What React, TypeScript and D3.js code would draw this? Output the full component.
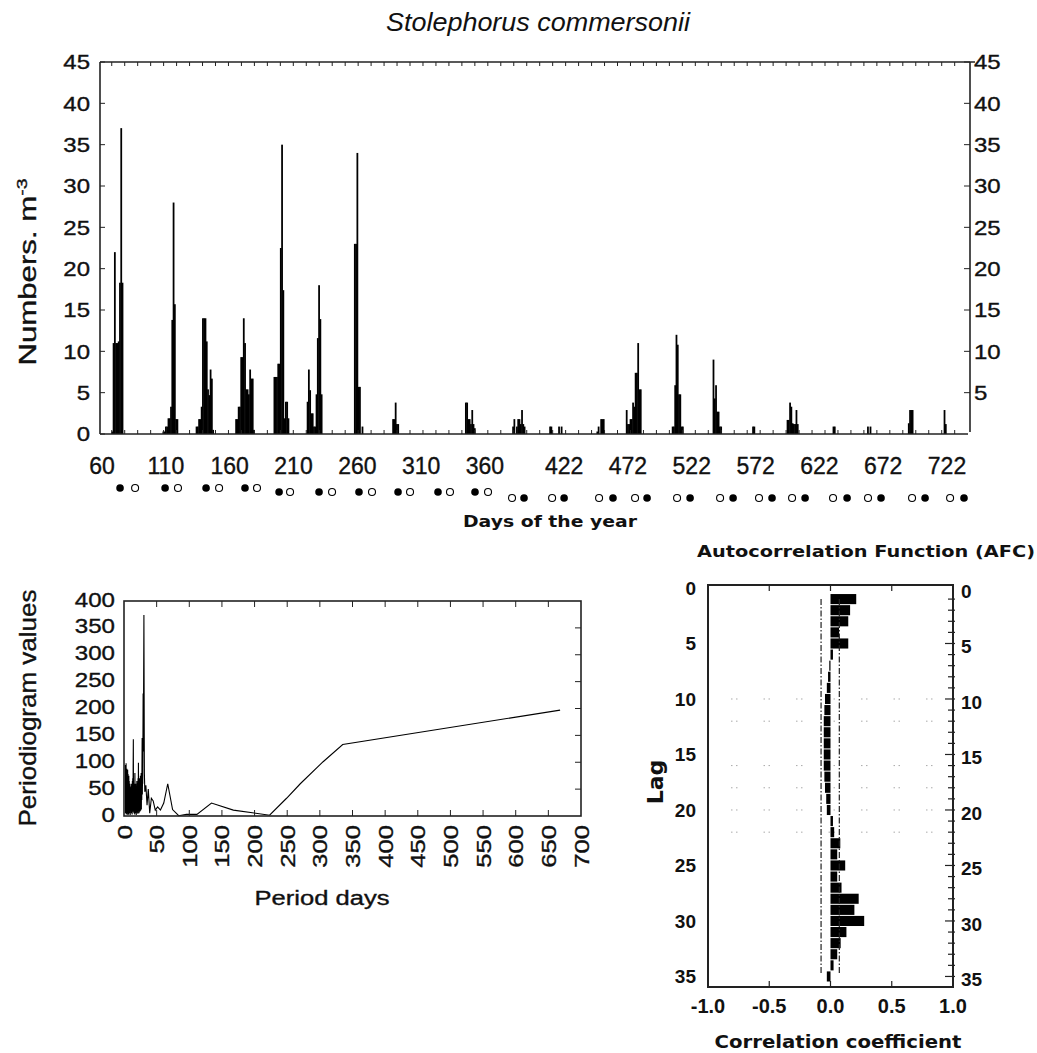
import React from 'react';
import * as d3 from 'd3';

// ---------- Top panel: daily abundance (day, numbers per m3) ----------
const topBars: [number, number][] = [
  [68, 0.3], [69, 11], [70, 22], [71, 11], [72, 11], [73, 11.2], [74, 18.3], [75, 37], [76, 18.3],
  [108, 0.3], [109, 0.3], [110, 0.9], [111, 0.9], [112, 1.9], [113, 1.9], [114, 3.3], [115, 13.8], [116, 28], [117, 15.7], [118, 1.8], [119, 1.8],
  [134, 0.9], [135, 0.9], [136, 1.8], [137, 1.8], [138, 3.3], [139, 14], [140, 14], [141, 14], [142, 11.2], [143, 5.4], [144, 4.7], [145, 7.8], [146, 6.7], [147, 0.5],
  [165, 1.8], [166, 1.8], [167, 3.3], [168, 3.3], [169, 9.3], [170, 9.3], [171, 14], [172, 11], [173, 5.4], [174, 5.4], [175, 4.8], [176, 7.8], [177, 6.7], [178, 6.7], [179, 0.5],
  [195, 6.9], [196, 6.9], [197, 6.9], [198, 8.5], [199, 8.5], [200, 22.5], [201, 35], [202, 17.4], [203, 1.9], [204, 3.9], [205, 3.9], [206, 1.9],
  [221, 3.9], [222, 7.8], [223, 5.3], [224, 2.5], [225, 2.5], [226, 0.9], [227, 0.9], [228, 4.8], [229, 11.6], [230, 18], [231, 13.9], [232, 4.8],
  [258, 23], [259, 23], [260, 34], [261, 5.7], [262, 5.7], [264, 0.9],
  [288, 1.8], [289, 1.8], [290, 3.8], [291, 1.2], [292, 1.2],
  [345, 3.8], [346, 3.8], [347, 1.8], [348, 1.8], [349, 1.2], [350, 2.9], [351, 1.2], [352, 0.7],
  [382, 0.9], [383, 1.8], [385, 0.9], [386, 1.8], [387, 1.8], [388, 1.2], [389, 2.9], [390, 1.2], [391, 0.9],
  [411, 0.9], [412, 0.9], [418, 0.9], [420, 0.9],
  [448, 0.3], [449, 0.9], [451, 1.8], [452, 1.8], [453, 1.8],
  [471, 2.9], [472, 1.2], [473, 1.2], [474, 1.8], [475, 1.8], [476, 3.8], [477, 3.3], [478, 7.4], [479, 7.4], [480, 11], [481, 5.4], [482, 5.4],
  [507, 0.9], [508, 0.9], [509, 5.9], [510, 12], [511, 10.8], [512, 4.8], [513, 4.8], [514, 0.9], [515, 0.9],
  [539, 9], [540, 4.3], [541, 5.9], [542, 2.7], [543, 2.7], [544, 0.9], [545, 0.9],
  [570, 0.9], [571, 0.9],
  [597, 1.7], [598, 1.7], [599, 3.8], [600, 3.3], [601, 1.3], [602, 1.2], [603, 1.2], [604, 2.9], [605, 1.2],
  [633, 0.9], [634, 0.9], [660, 0.9], [662, 0.9],
  [692, 1.3], [693, 2.9], [694, 2.9], [695, 2.9],
  [720, 2.9], [721, 1.2],
];
const dayLabels = [60, 110, 160, 210, 260, 310, 360, 422, 472, 522, 572, 622, 672, 722];
const topYTicks = [0, 5, 10, 15, 20, 25, 30, 35, 40, 45];
const topYTicksRight = [5, 10, 15, 20, 25, 30, 35, 40, 45];
const newMoonDays = [74.1, 109.4, 141.5, 172.0, 198.7, 230.0, 261.3, 291.9, 323.2, 352.2, 390.6, 422.0, 460.3, 487.0, 520.7, 554.4, 584.9, 610.8, 643.7, 670.3, 704.8, 735.3];
const fullMoonDays = [85.9, 119.5, 151.7, 181.4, 207.3, 240.2, 271.5, 301.3, 332.6, 362.4, 381.2, 412.6, 449.4, 477.6, 510.5, 544.2, 574.7, 600.6, 632.7, 660.1, 694.6, 724.4];

// ---------- Periodogram: [period (days), periodogram value] ----------
const periodogram: [number, number][] = [
  [2.0, 95], [2.3, 5], [2.6, 90], [2.9, 8], [3.2, 98], [3.5, 3], [3.8, 85], [4.1, 10], [4.4, 88], [4.7, 4],
  [5.0, 80], [5.3, 12], [5.6, 86], [5.9, 2], [6.2, 78], [6.5, 15], [6.8, 70], [7.1, 3], [7.4, 75], [7.7, 20],
  [8.0, 65], [8.3, 5], [8.6, 60], [8.9, 18], [9.2, 55], [9.5, 2], [9.8, 50], [10.1, 10], [10.4, 45], [10.7, 25],
  [11.0, 60], [11.3, 5], [11.6, 40], [11.9, 12], [12.2, 55], [12.5, 3], [12.8, 65], [13.1, 20], [13.4, 70], [13.7, 8],
  [14.0, 90], [14.3, 143], [14.6, 10], [14.9, 55], [15.2, 5], [15.5, 60], [15.8, 15], [16.1, 45], [16.4, 3], [16.7, 80],
  [17.0, 20], [17.3, 50], [17.6, 5], [17.9, 60], [18.2, 12], [18.5, 40], [18.8, 2], [19.1, 55], [19.4, 18], [19.7, 65],
  [20.0, 6], [20.3, 50], [20.6, 25], [20.9, 60], [21.2, 4], [21.5, 70], [21.8, 10], [22.1, 99], [22.4, 30], [22.7, 55],
  [23.0, 5], [23.3, 65], [23.6, 15], [23.9, 70], [24.2, 8], [24.5, 60], [24.8, 20], [25.1, 75], [25.4, 10], [25.7, 65],
  [26.0, 25], [26.3, 80], [26.6, 12], [26.9, 70], [27.2, 30], [27.5, 90], [27.8, 145], [28.1, 40], [28.4, 80], [28.7, 60],
  [29.0, 140], [29.3, 228], [29.6, 120], [29.9, 200],
  [30.5, 374], [31.2, 80], [31.9, 45], [33.5, 57], [35.3, 20], [37.2, 50], [39.4, 5], [41.9, 33], [44.7, 28], [47.9, 11],
  [51.5, 17], [55.8, 11], [60.9, 24], [67, 60], [74.4, 12], [83.75, 0.5], [95.7, 3], [111.7, 3], [134, 24], [167.5, 11],
  [223, 1.5], [249, 33], [270, 60], [305, 101], [335, 133], [668, 197],
];
const perXTicks = [0, 50, 100, 150, 200, 250, 300, 350, 400, 450, 500, 550, 600, 650, 700];
const perYTicks = [0, 50, 100, 150, 200, 250, 300, 350, 400];

// ---------- Autocorrelation ----------
const acfLags = [1, 2, 3, 4, 5, 6, 7, 8, 9, 10, 11, 12, 13, 14, 15, 16, 17, 18, 19, 20, 21, 22, 23, 24, 25, 26, 27, 28, 29, 30, 31, 32, 33, 34, 35];
const acfValues = [0.21, 0.16, 0.145, 0.07, 0.145, 0.02, -0.01, -0.02, -0.03, -0.045, -0.05, -0.055, -0.055, -0.055, -0.055, -0.055, -0.05, -0.045, -0.035, -0.03,
  0.02, 0.03, 0.08, 0.055, 0.12, 0.055, 0.09, 0.23, 0.195, 0.275, 0.13, 0.083, 0.055, 0.025, -0.03];
const acfConfLower = -0.077;
const acfConfUpper = 0.072;
const acfXTicks = [-1, -0.5, 0, 0.5, 1];
const acfXLabels = ['-1.0', '-0.5', '0.0', '0.5', '1.0'];
const acfYTicks = [0, 5, 10, 15, 20, 25, 30, 35];
const acfGridLags = [10, 12, 16, 18, 20, 22];

const ARIAL = 'Liberation Sans, Arial, sans-serif';
const VERD = 'DejaVu Sans, Verdana, sans-serif';
const INK = '#111';
const thick = { stroke: INK, strokeWidth: 0.35 };

export default function App() {
  // top scales
  const xTop = d3.scaleLinear().domain([58.4, 740]).range([100, 970]);
  const yTop = d3.scaleLinear().domain([0, 45]).range([434, 62]);
  const dayTicks = d3.range(67.6, 738, 10.16);

  // periodogram scales
  const xPer = d3.scaleLinear().domain([0, 700]).range([124, 581]);
  const yPer = d3.scaleLinear().domain([0, 400]).range([816, 601]);
  const perLine = d3.line<[number, number]>()
    .x((d) => xPer(d[0]))
    .y((d) => yPer(d[1]));

  // acf scales
  const xAcf = d3.scaleLinear().domain([-1, 1]).range([708, 953]);
  const yAcf = d3.scaleLinear().domain([-0.27, 35.95]).range([585, 987]);

  const moonY = (i: number) => (i < 4 ? 488 : i < 10 ? 492 : 498);

  return (
    <svg width={1037} height={1053} style={{ position: 'absolute', left: 0, top: 0, background: '#fff' }}
      fontFamily={ARIAL}>
      <rect x={0} y={0} width={1037} height={1053} fill="#fff" />
      {/* ---------------- TOP PANEL ---------------- */}
      <text x={538} y={31} fontSize={26} fontStyle="italic" textAnchor="middle" fill={INK}
        textLength={304} lengthAdjust="spacingAndGlyphs">Stolephorus commersonii</text>

      {topBars.map(([d, v], i) => (
        <rect key={i} x={xTop(d - 0.5) - 0.2} y={yTop(v)} width={xTop(d + 0.5) - xTop(d - 0.5) + 0.5}
          height={yTop(0) - yTop(v)} fill="#000" />
      ))}

      {/* frame */}
      <line x1={100} y1={yTop(45)} x2={975} y2={yTop(45)} stroke="#222" strokeWidth={1.6} />
      <line x1={100} y1={yTop(0)} x2={968} y2={yTop(0)} stroke="#222" strokeWidth={1.6} />
      <line x1={100} y1={yTop(45)} x2={100} y2={yTop(0)} stroke="#222" strokeWidth={1.6} />
      <line x1={xTop(740)} y1={yTop(45)} x2={xTop(740)} y2={432} stroke="#222" strokeWidth={1.6} />

      {dayTicks.map((t, i) => (
        <g key={i}>
          <line x1={xTop(t)} x2={xTop(t)} y1={yTop(45)} y2={yTop(45) + 4} stroke="#222" strokeWidth={1} />
          <line x1={xTop(t)} x2={xTop(t)} y1={yTop(0)} y2={yTop(0) - 4} stroke="#222" strokeWidth={1} />
        </g>
      ))}
      {topYTicks.map((t) => (
        <g key={t}>
          <line x1={100} x2={105} y1={yTop(t)} y2={yTop(t)} stroke="#222" strokeWidth={1} />
          <text transform={`translate(90,${yTop(t)}) scale(1.2,1)`} dy="0.36em" fontSize={20} textAnchor="end" fill={INK} {...thick}>{t}</text>
        </g>
      ))}
      {topYTicksRight.map((t) => (
        <g key={t}>
          <line x1={xTop(740) - 6} x2={xTop(740)} y1={yTop(t)} y2={yTop(t)} stroke="#222" strokeWidth={1} />
          <text transform={`translate(974,${yTop(t)}) scale(1.2,1)`} dy="0.36em" fontSize={20} textAnchor="start" fill={INK} {...thick}>{t}</text>
        </g>
      ))}
      {dayLabels.map((d) => (
        <text key={d} x={xTop(d)} y={474} fontSize={23} textAnchor="middle" fill={INK} {...thick}>{d}</text>
      ))}
      {newMoonDays.map((d, i) => (
        <circle key={'n' + i} cx={xTop(d)} cy={moonY(i)} r={3.8} fill="#000" />
      ))}
      {fullMoonDays.map((d, i) => (
        <circle key={'f' + i} cx={xTop(d)} cy={moonY(i)} r={3.5} fill="#fff" stroke="#000" strokeWidth={1.1} />
      ))}
      <text x={550} y={527} fontSize={16} fontWeight="bold" fontFamily={VERD} textAnchor="middle" fill={INK}
        textLength={174} lengthAdjust="spacingAndGlyphs">Days of the year</text>
      <g transform="translate(36,272) rotate(-90) scale(1.3,1)">
        <text fontSize={24} textAnchor="middle" fill={INK} {...thick}>Numbers. m<tspan dy={-9} fontSize={15}>-3</tspan></text>
      </g>

      {/* ---------------- PERIODOGRAM ---------------- */}
      <path d={perLine(periodogram) || ''} fill="none" stroke="#000" strokeWidth={1.1} />
      <rect x={xPer(0)} y={yPer(400)} width={xPer(700) - xPer(0)} height={yPer(0) - yPer(400)}
        fill="none" stroke="#222" strokeWidth={1.6} />
      {perXTicks.slice(1, -1).map((t) => (
        <g key={t}>
          <line x1={xPer(t)} x2={xPer(t)} y1={yPer(400)} y2={yPer(400) + 6} stroke="#222" strokeWidth={1} />
          <line x1={xPer(t)} x2={xPer(t)} y1={yPer(0)} y2={yPer(0) - 6} stroke="#222" strokeWidth={1} />
        </g>
      ))}
      {perYTicks.slice(1, -1).map((t) => (
        <line key={t} x1={xPer(700) - 6} x2={xPer(700)} y1={yPer(t)} y2={yPer(t)} stroke="#222" strokeWidth={1} />
      ))}
      {perYTicks.map((t) => (
        <text key={t} transform={`translate(115,${yPer(t) - 2}) scale(1.15,1)`} dy="0.36em" fontSize={21} textAnchor="end" fill={INK} {...thick}>{t}</text>
      ))}
      {perXTicks.map((t) => (
        <text key={t} transform={`translate(${xPer(t)},825) rotate(-90) scale(1.22,1)`} dy="0.36em" fontSize={21} textAnchor="end" fill={INK} {...thick}>{t}</text>
      ))}
      <text transform="translate(27,708) rotate(-90)" dy="0.36em" fontSize={24} textAnchor="middle" fill={INK} {...thick}
        textLength={237} lengthAdjust="spacingAndGlyphs">Periodiogram values</text>
      <text x={322} y={905} fontSize={20} textAnchor="middle" fill={INK} {...thick}
        textLength={135} lengthAdjust="spacingAndGlyphs">Period days</text>

      {/* ---------------- ACF ---------------- */}
      <text x={866} y={557} fontSize={16} fontWeight="bold" fontFamily={VERD} textAnchor="middle" fill={INK}
        textLength={338} lengthAdjust="spacingAndGlyphs">Autocorrelation Function (AFC)</text>
      {acfGridLags.map((l) => (
        <line key={l} x1={731} x2={950} y1={yAcf(l)} y2={yAcf(l)} stroke="#aaa" strokeWidth={1}
          strokeDasharray="1.5,3.5,1.5,26" />
      ))}
      {acfLags.map((l, i) => {
        const v = acfValues[i];
        const y0 = yAcf(l - 0.5);
        const y1 = yAcf(l + 0.5);
        return (
          <rect key={l} x={Math.min(xAcf(0), xAcf(v))} y={y0 + 0.5} width={Math.abs(xAcf(v) - xAcf(0))}
            height={y1 - y0 - 1} fill="#000" />
        );
      })}
      <line x1={xAcf(acfConfLower)} x2={xAcf(acfConfLower)} y1={yAcf(1)} y2={yAcf(34.7)} stroke="#222" strokeWidth={1.2}
        strokeDasharray="6,2,1.5,2" />
      <line x1={xAcf(acfConfUpper)} x2={xAcf(acfConfUpper)} y1={yAcf(1)} y2={yAcf(34.7)} stroke="#222" strokeWidth={1.2}
        strokeDasharray="6,2,1.5,2" />
      <rect x={xAcf(-1)} y={585} width={xAcf(1) - xAcf(-1)} height={987 - 585} fill="none" stroke="#222" strokeWidth={2} />
      {acfXTicks.slice(1, -1).map((t) => (
        <g key={t}>
          <line x1={xAcf(t)} x2={xAcf(t)} y1={585} y2={591} stroke="#222" strokeWidth={1.2} />
          <line x1={xAcf(t)} x2={xAcf(t)} y1={987} y2={981} stroke="#222" strokeWidth={1.2} />
        </g>
      ))}
      {acfLags.map((l) => (
        <line key={l} x1={l % 5 === 0 ? xAcf(1) - 8 : xAcf(1) - 5} x2={xAcf(1) + 2} y1={yAcf(l)} y2={yAcf(l)}
          stroke="#222" strokeWidth={1.2} />
      ))}
      {acfYTicks.map((t) => (
        <g key={t}>
          <text x={696} y={yAcf(t)} dy="0.36em" fontSize={19} fontWeight="bold" textAnchor="end" fill={INK}>{t}</text>
          <text x={961} y={yAcf(t) + 3} dy="0.36em" fontSize={19} fontWeight="bold" textAnchor="start" fill={INK}>{t}</text>
        </g>
      ))}
      {acfXTicks.map((t, i) => (
        <text key={t} x={xAcf(t)} y={1013} fontSize={20} fontWeight="bold" textAnchor="middle" fill={INK}>{acfXLabels[i]}</text>
      ))}
      <text x={838} y={1048} fontSize={18} fontWeight="bold" fontFamily={VERD} textAnchor="middle" fill={INK}
        textLength={247} lengthAdjust="spacingAndGlyphs">Correlation coefficient</text>
      <text transform="translate(655,782) rotate(-90)" dy="0.36em" fontSize={22} fontWeight="bold" fontFamily={VERD}
        textAnchor="middle" fill={INK}>Lag</text>
    </svg>
  );
}
